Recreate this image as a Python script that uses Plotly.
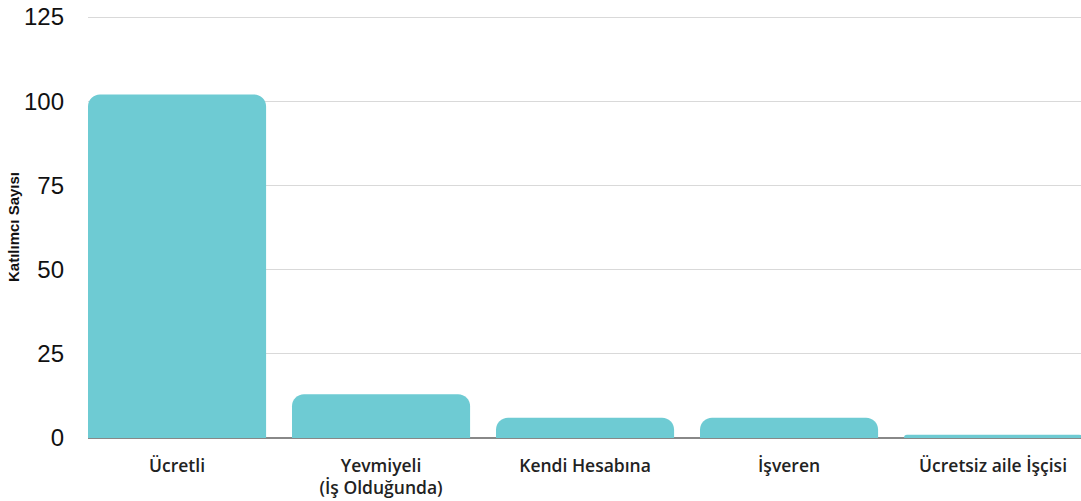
import plotly.graph_objects as go

categories = ["Ücretli", "Yevmiyeli<br>(İş Olduğunda)", "Kendi Hesabına", "İşveren", "Ücretsiz aile İşçisi"]
values = [102, 13, 6, 6, 1]
y_ticks = [0, 25, 50, 75, 100, 125]

bar_width = 0.873

fig = go.Figure(go.Bar(
    x=categories, y=values,
    marker=dict(color="#6ECBD3", line=dict(width=0)),
    width=bar_width,
    hoverinfo="skip",
))

x_start = -0.5 + (1 - bar_width) / 2
fig.update_layout(
    width=1081, height=501,
    margin=dict(l=88, r=0, t=16, b=63, autoexpand=False),
    paper_bgcolor="white", plot_bgcolor="white",
    barcornerradius=12,
    showlegend=False,
    xaxis=dict(
        range=[x_start, x_start + 993 / 204],
        automargin=False,
        tickfont=dict(family="Open Sans, Lato, sans-serif", size=17.5, color="#222", weight=600),
        showgrid=False,
        showline=False,
        ticks="",
        ticklabelstandoff=15,
        ticklabeloverflow="allow",
    ),
    yaxis=dict(
        range=[0, 125.3],
        automargin=False,
        tickvals=y_ticks,
        tickfont=dict(family="Liberation Sans, Arial, sans-serif", size=24, color="#111"),
        gridcolor="#d9d9d9", gridwidth=1,
        zeroline=True, zerolinecolor="#888", zerolinewidth=1.5,
        ticklabelstandoff=23,
        ticklabeloverflow="allow",
        title=dict(text="Katılımcı Sayısı", font=dict(family="Liberation Sans, Arial, sans-serif", size=15, color="#111", weight="bold"), standoff=0),
    ),
)

fig.write_html(
    "out.html",
    config={"displayModeBar": False},
    post_script="document.body.style.margin='0';document.body.style.overflow='hidden';",
)
